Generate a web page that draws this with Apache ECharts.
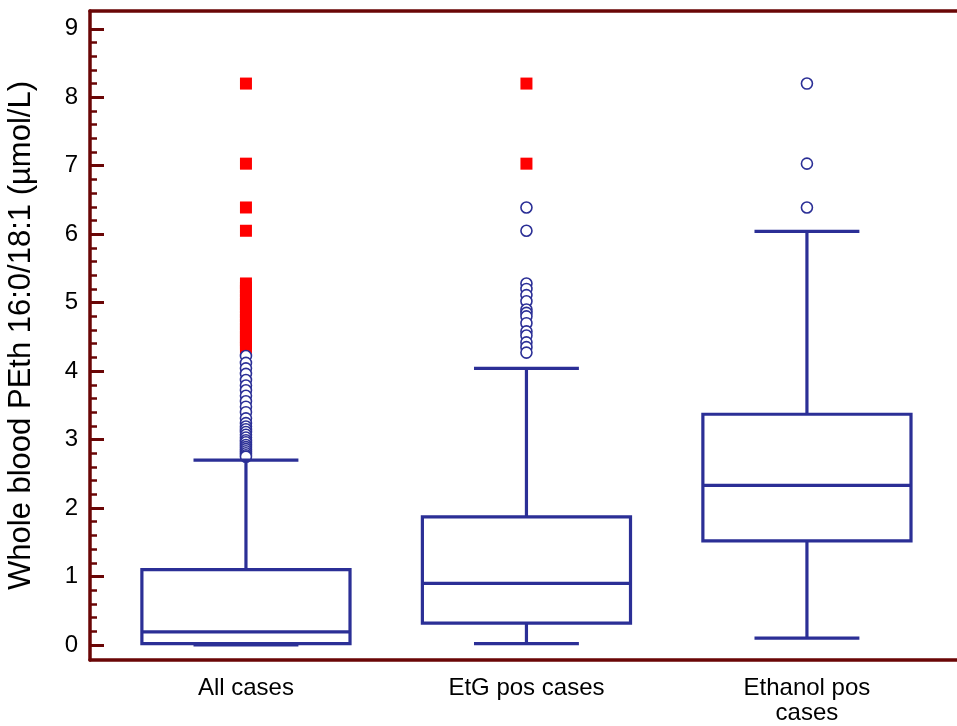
<!DOCTYPE html>
<html>
<head>
<meta charset="utf-8">
<script src="https://cdn.jsdelivr.net/npm/echarts@6/dist/echarts.min.js"></script>
<style>
  html, body { margin: 0; padding: 0; background: #ffffff; }
  #chart { width: 957px; height: 726px; }
</style>
</head>
<body>
<div id="chart"></div>
<script>
// Groups shown on the horizontal axis
const categories = ['All cases', 'EtG pos cases', 'Ethanol pos\ncases'];

// Box summaries: [lower whisker, Q1, median, Q3, upper whisker]
const allCasesBox = [0.0, 0.02, 0.19, 1.1, 2.7];
const etgBox = [0.02, 0.32, 0.9, 1.87, 4.04];
const ethanolBox = [0.1, 1.52, 2.33, 3.37, 6.04];

// Outside values (circles) and far-out values (red squares)
const allCasesOutside = [4.22, 4.12, 4.04, 3.96, 3.87, 3.79, 3.72, 3.64, 3.56, 3.48, 3.4, 3.31,
  3.24, 3.19, 3.15, 3.11, 3.07, 3.03, 2.99, 2.96, 2.92, 2.89, 2.86, 2.83, 2.8, 2.77, 2.75];
const allCasesFarOut = [8.2, 7.03, 6.39, 6.05, 5.28, 5.22, 5.17, 5.1, 5.04, 4.98, 4.93, 4.86,
  4.8, 4.75, 4.68, 4.62, 4.57, 4.5, 4.45, 4.4, 4.34];
const etgOutside = [6.39, 6.05, 5.28, 5.2, 5.11, 5.02, 4.9, 4.85, 4.8, 4.7, 4.58, 4.52, 4.42, 4.35, 4.27];
const etgFarOut = [8.2, 7.03];
const ethanolOutside = [8.2, 7.03, 6.39];

// Vertical axis ticks
const yTickLabels = ['0', '1', '2', '3', '4', '5', '6', '7', '8', '9'];
const yTickValues = yTickLabels.map(Number);
const yMinorTickValues = [];
yTickValues.slice(0, -1).forEach(function (v) {
  [0.2, 0.4, 0.6, 0.8].forEach(function (f) { yMinorTickValues.push(+(v + f).toFixed(2)); });
});

const FRAME = '#6a0606';
const NAVY = '#2b2f96';
const FONT = '"Liberation Sans", Arial, Helvetica, sans-serif';
const Y_MIN = -0.22, Y_MAX = 9.26;
const X_MIN = -0.556, X_MAX = 2.535;

const boxRows = [allCasesBox, etgBox, ethanolBox].map(function (b, i) { return [i].concat(b); });

function renderBox(params, api) {
  const x = api.value(0);
  const lo = api.coord([x, api.value(1)]);
  const q1 = api.coord([x, api.value(2)]);
  const med = api.coord([x, api.value(3)]);
  const q3 = api.coord([x, api.value(4)]);
  const hi = api.coord([x, api.value(5)]);
  const unit = api.size([1, 0])[0];
  const bw = unit * 0.371;
  const cw = unit * 0.187;
  const cx = lo[0];
  const st = { stroke: NAVY, lineWidth: 3.2, fill: null };
  return {
    type: 'group',
    children: [
      { type: 'line', shape: { x1: cx, y1: q3[1], x2: cx, y2: hi[1] }, style: st },
      { type: 'line', shape: { x1: cx, y1: q1[1], x2: cx, y2: lo[1] }, style: st },
      { type: 'line', shape: { x1: cx - cw, y1: hi[1], x2: cx + cw, y2: hi[1] }, style: st },
      { type: 'line', shape: { x1: cx - cw, y1: lo[1], x2: cx + cw, y2: lo[1] }, style: st },
      { type: 'rect', shape: { x: cx - bw, y: q3[1], width: 2 * bw, height: q1[1] - q3[1] },
        style: { stroke: NAVY, lineWidth: 3.2, fill: 'rgba(0,0,0,0)' } },
      { type: 'line', shape: { x1: cx - bw, y1: med[1], x2: cx + bw, y2: med[1] }, style: st }
    ]
  };
}

function pts(idx, arr) { return arr.map(function (v) { return [idx, v]; }); }

const chart = echarts.init(document.getElementById('chart'), null, { renderer: 'canvas' });
chart.setOption({
  backgroundColor: '#ffffff',
  animation: false,
  textStyle: { fontFamily: FONT },
  grid: { left: 90, right: 0, top: 11, bottom: 66, containLabel: false, outerBoundsMode: 'none' },
  xAxis: [
    {
      type: 'value', position: 'bottom', min: X_MIN, max: X_MAX,
      axisLine: { show: true, onZero: false, lineStyle: { color: FRAME, width: 3.5 } },
      axisTick: { show: false },
      splitLine: { show: false },
      axisLabel: {
        customValues: [0, 1, 2],
        formatter: function (v) { return categories[Math.round(v)]; },
        fontSize: 24, color: '#000', fontFamily: FONT, margin: 16, lineHeight: 25
      }
    },
    {
      type: 'value', position: 'top', min: X_MIN, max: X_MAX,
      axisLine: { show: true, onZero: false, lineStyle: { color: FRAME, width: 3.5 } },
      axisTick: { show: false }, axisLabel: { show: false }, splitLine: { show: false }
    }
  ],
  yAxis: [
    {
      type: 'value', position: 'left', min: Y_MIN, max: Y_MAX,
      axisLine: { show: true, onZero: false, lineStyle: { color: FRAME, width: 3.5 } },
      axisTick: { show: true, inside: true, length: 14, customValues: yTickValues,
        lineStyle: { color: FRAME, width: 3 } },
      axisLabel: { customValues: yTickValues,
        formatter: function (v) { return yTickLabels[Math.round(v)]; },
        fontSize: 24, color: '#000', fontFamily: FONT, margin: 12 },
      splitLine: { show: false },
      name: 'Whole blood PEth 16:0/18:1 (\u00b5mol/L)',
      nameLocation: 'middle', nameGap: 53, nameRotate: 90,
      nameTextStyle: { fontSize: 31, color: '#000', fontFamily: FONT }
    },
    {
      type: 'value', position: 'left', offset: 0, min: Y_MIN, max: Y_MAX,
      axisLine: { show: false, onZero: false },
      axisTick: { show: true, inside: true, length: 7, customValues: yMinorTickValues,
        lineStyle: { color: FRAME, width: 2.5 } },
      axisLabel: { show: false }, splitLine: { show: false }
    }
  ],
  series: [
    {
      type: 'scatter', name: 'far out', symbol: 'rect', symbolSize: 12, z: 2,
      itemStyle: { color: '#ff0000', opacity: 1 },
      data: pts(0, allCasesFarOut).concat(pts(1, etgFarOut))
    },
    {
      type: 'scatter', name: 'outside', symbol: 'circle', symbolSize: 11, z: 3,
      itemStyle: { color: '#ffffff', borderColor: NAVY, borderWidth: 1.6, opacity: 1 },
      data: pts(0, allCasesOutside).concat(pts(1, etgOutside), pts(2, ethanolOutside))
    },
    {
      type: 'custom', name: 'boxes', z: 4,
      renderItem: renderBox,
      encode: { x: 0, y: [1, 2, 3, 4, 5] },
      data: boxRows
    }
  ]
});
</script>
</body>
</html>
